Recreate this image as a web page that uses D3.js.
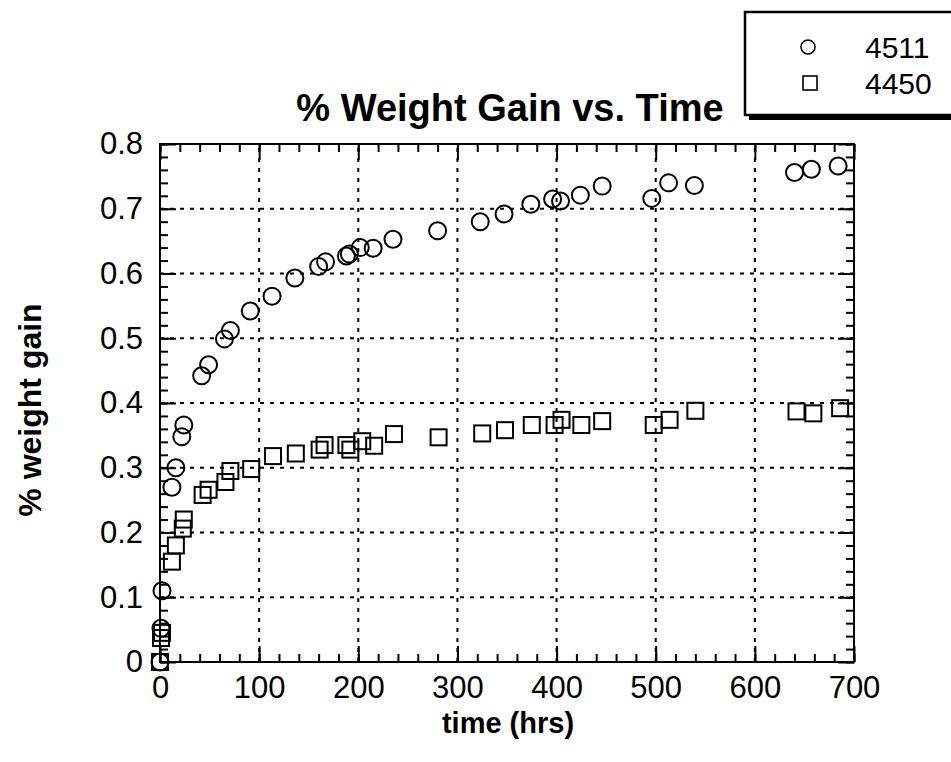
<!DOCTYPE html>
<html>
<head>
<meta charset="utf-8">
<script src="https://cdn.jsdelivr.net/npm/d3@7"></script>
<style>
  body { margin: 0; background: #fff; }
  text { font-family: "Liberation Sans", Arial, Helvetica, sans-serif; fill: #000; }
</style>
</head>
<body>
<svg id="chart" width="951" height="762"></svg>
<script>
// datos
const series = ['4511', '4450'];

const time4511 = [0, 1, 2, 12, 16, 22, 24, 42, 49, 65, 71, 91, 113, 136, 160, 167, 188, 191, 202, 215, 235, 280, 323, 347, 374, 396, 404, 424, 446, 496, 513, 539, 640, 657, 684];
const gain4511 = [0, 0.052, 0.11, 0.27, 0.30, 0.348, 0.366, 0.442, 0.459, 0.499, 0.512, 0.542, 0.565, 0.593, 0.611, 0.618, 0.627, 0.63, 0.64, 0.639, 0.653, 0.666, 0.68, 0.692, 0.707, 0.715, 0.712, 0.721, 0.735, 0.716, 0.740, 0.736, 0.756, 0.761, 0.766];

const time4450 = [0, 1, 2, 12, 16, 23, 24, 43, 49, 66, 71, 92, 114, 137, 161, 166, 188, 192, 204, 216, 236, 281, 325, 348, 375, 398, 405, 425, 446, 498, 514, 540, 642, 659, 686];
const gain4450 = [0, 0.037, 0.045, 0.155, 0.18, 0.206, 0.22, 0.258, 0.266, 0.278, 0.295, 0.298, 0.318, 0.322, 0.328, 0.335, 0.335, 0.328, 0.341, 0.334, 0.352, 0.347, 0.353, 0.358, 0.366, 0.366, 0.374, 0.366, 0.372, 0.366, 0.374, 0.388, 0.387, 0.384, 0.392];

const xMajor = [0, 100, 200, 300, 400, 500, 600, 700];
const yMajor = [0, 0.1, 0.2, 0.3, 0.4, 0.5, 0.6, 0.7, 0.8];

const svg = d3.select("#chart");
const margin = { top: 144, right: 97, bottom: 100, left: 160 };
const width = 951, height = 762;

const x = d3.scaleLinear().domain([0, 700]).range([margin.left, width - margin.right]);
const y = d3.scaleLinear().domain([0, 0.8]).range([height - margin.bottom, margin.top]);

// rejilla punteada
const grid = svg.append("g")
    .attr("stroke", "#000")
    .attr("stroke-width", 2)
    .attr("stroke-dasharray", "4,6");
grid.selectAll(".vg")
    .data(xMajor.slice(1, -1))
    .join("line")
    .attr("x1", d => x(d)).attr("x2", d => x(d))
    .attr("y1", y(0)).attr("y2", y(0.8));
grid.selectAll(".hg")
    .data(yMajor.slice(1, -1))
    .join("line")
    .attr("x1", x(0)).attr("x2", x(700))
    .attr("y1", d => y(d)).attr("y2", d => y(d));

// ejes con marcas hacia adentro
const minorX = d3.range(0, 701, 20);
const minorY = d3.range(0, 0.801, 0.02);

const styleAxis = g => {
    g.select(".domain").remove();
    g.selectAll("line").attr("stroke", "#000").attr("stroke-width", 2);
};

svg.append("g").attr("transform", `translate(0,${y(0)})`)
    .call(d3.axisBottom(x).tickValues(minorX).tickSize(-8).tickFormat(""))
    .call(styleAxis);
svg.append("g").attr("transform", `translate(0,${y(0)})`)
    .call(d3.axisBottom(x).tickValues(xMajor).tickSize(-16).tickPadding(14).tickFormat(d3.format("d")))
    .call(styleAxis)
    .call(g => g.selectAll("text").attr("font-size", 31).attr("dy", "0.72em"));
svg.append("g").attr("transform", `translate(0,${y(0.8)})`)
    .call(d3.axisTop(x).tickValues(minorX).tickSize(-8).tickFormat(""))
    .call(styleAxis);
svg.append("g").attr("transform", `translate(0,${y(0.8)})`)
    .call(d3.axisTop(x).tickValues(xMajor).tickSize(-16).tickFormat(""))
    .call(styleAxis);

svg.append("g").attr("transform", `translate(${x(0)},0)`)
    .call(d3.axisLeft(y).tickValues(minorY).tickSize(-8).tickFormat(""))
    .call(styleAxis);
svg.append("g").attr("transform", `translate(${x(0)},0)`)
    .call(d3.axisLeft(y).tickValues(yMajor).tickSize(-16).tickPadding(17)
        .tickFormat(d => d === 0 ? "0" : d3.format(".1f")(d)))
    .call(styleAxis)
    .call(g => g.selectAll("text").attr("font-size", 31).attr("x", -17));
svg.append("g").attr("transform", `translate(${x(700)},0)`)
    .call(d3.axisRight(y).tickValues(minorY).tickSize(-8).tickFormat(""))
    .call(styleAxis);
svg.append("g").attr("transform", `translate(${x(700)},0)`)
    .call(d3.axisRight(y).tickValues(yMajor).tickSize(-16).tickFormat(""))
    .call(styleAxis);

// marco
svg.append("rect")
    .attr("x", x(0)).attr("y", y(0.8))
    .attr("width", x(700) - x(0)).attr("height", y(0) - y(0.8))
    .attr("fill", "none").attr("stroke", "#000").attr("stroke-width", 2);

// puntos
const puntosA = time4511.map((t, i) => ({ t, v: gain4511[i] }));
const puntosB = time4450.map((t, i) => ({ t, v: gain4450[i] }));

svg.append("g")
    .selectAll("circle")
    .data(puntosA)
    .join("circle")
    .attr("cx", d => x(d.t))
    .attr("cy", d => y(d.v))
    .attr("r", 8.5)
    .attr("fill", "none").attr("stroke", "#000").attr("stroke-width", 2);

const lado = 16;
svg.append("g")
    .selectAll("rect")
    .data(puntosB)
    .join("rect")
    .attr("x", d => x(d.t) - lado / 2)
    .attr("y", d => y(d.v) - lado / 2)
    .attr("width", lado).attr("height", lado)
    .attr("fill", "none").attr("stroke", "#000").attr("stroke-width", 2);

// titulos
svg.append("text")
    .attr("x", 510).attr("y", 121)
    .attr("text-anchor", "middle")
    .attr("font-size", 38).attr("font-weight", "bold")
    .text("% Weight Gain vs. Time");

svg.append("text")
    .attr("x", 508).attr("y", 733)
    .attr("text-anchor", "middle")
    .attr("font-size", 29).attr("font-weight", "bold")
    .text("time (hrs)");

svg.append("text")
    .attr("transform", "translate(41,410) rotate(-90)")
    .attr("text-anchor", "middle")
    .attr("font-size", 32).attr("font-weight", "bold")
    .text("% weight gain");

// leyenda
const leyenda = svg.append("g");
leyenda.append("rect")
    .attr("x", 749).attr("y", 113).attr("width", 220).attr("height", 7)
    .attr("fill", "#000");
leyenda.append("rect")
    .attr("x", 745).attr("y", 12).attr("width", 220).attr("height", 103)
    .attr("fill", "#fff").attr("stroke", "#000").attr("stroke-width", 2.5);

const ly = d3.scalePoint().domain(series).range([47, 83]);
leyenda.append("circle")
    .attr("cx", 808).attr("cy", ly('4511')).attr("r", 7)
    .attr("fill", "none").attr("stroke", "#000").attr("stroke-width", 1.6);
leyenda.append("rect")
    .attr("x", 810 - 7).attr("y", ly('4450') - 7).attr("width", 14).attr("height", 14)
    .attr("fill", "none").attr("stroke", "#000").attr("stroke-width", 1.6);
leyenda.selectAll(".lt")
    .data(series)
    .join("text")
    .attr("x", 865).attr("y", d => ly(d))
    .attr("dy", "0.36em")
    .attr("font-size", 30)
    .text(d => d);
</script>
</body>
</html>
